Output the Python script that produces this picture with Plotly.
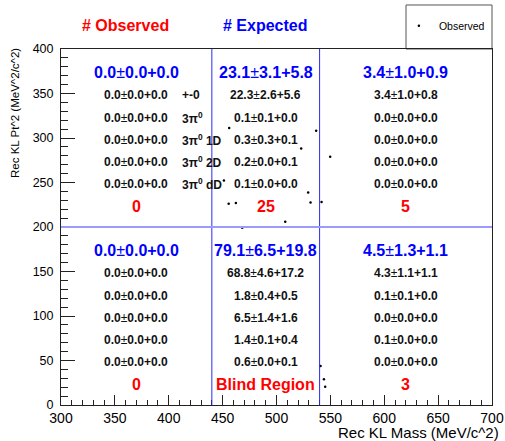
import plotly.graph_objects as go

# Observed events (reconstructed KL mass vs. Pt^2)
obs_mass = [456.1, 536.8, 522.9, 549.8, 451.2, 529.4, 455.6, 462.3, 531.6, 541.8,
            508.1, 468.2, 540.9, 544.0, 545.2]
obs_pt2 = [311.2, 308.2, 288.3, 279.0, 252.3, 238.8, 226.1, 226.9, 227.6, 228.0,
           205.8, 199.1, 43.9, 28.9, 20.6]

# Signal box cuts
mass_cuts = [440, 540]
pt2_cut = 200

# Column centres (mass) and row positions (Pt^2) for the yield table
col_mass = [370, 490, 620]
upper_rows = [375, 350, 325, 300, 275, 250, 225]
lower_rows = [175, 150, 125, 100, 75, 50, 25]
label_mass = 410

mode_labels = ["+-0", "3π<sup>0</sup>", "3π<sup>0</sup> 1D", "3π<sup>0</sup> 2D", "3π<sup>0</sup> dD"]

# Expected yields: (value, stat, syst)
upper_totals = [(0.0, 0.0, 0.0), (23.1, 3.1, 5.8), (3.4, 1.0, 0.9)]
upper_modes = [
    [(0.0, 0.0, 0.0)] * 5,
    [(22.3, 2.6, 5.6), (0.1, 0.1, 0.0), (0.3, 0.3, 0.1), (0.2, 0.0, 0.1), (0.1, 0.0, 0.0)],
    [(3.4, 1.0, 0.8), (0.0, 0.0, 0.0), (0.0, 0.0, 0.0), (0.0, 0.0, 0.0), (0.0, 0.0, 0.0)],
]
upper_counts = ["0", "25", "5"]

lower_totals = [(0.0, 0.0, 0.0), (79.1, 6.5, 19.8), (4.5, 1.3, 1.1)]
lower_modes = [
    [(0.0, 0.0, 0.0)] * 5,
    [(68.8, 4.6, 17.2), (1.8, 0.4, 0.5), (6.5, 1.4, 1.6), (1.4, 0.1, 0.4), (0.6, 0.0, 0.1)],
    [(4.3, 1.1, 1.1), (0.1, 0.1, 0.0), (0.0, 0.0, 0.0), (0.1, 0.0, 0.0), (0.0, 0.0, 0.0)],
]
lower_counts = ["0", "Blind Region", "3"]

FONT = "Liberation Sans, Arial, Helvetica, sans-serif"
RED = "#ff0000"
BLUE = "#0000ff"
INK = "#111111"


def fmt(v):
    val, stat, syst = v
    return f"<b>{val:.1f}</b>±<b>{stat:.1f}+{syst:.1f}</b>"


fig = go.Figure()
fig.add_trace(go.Scatter(
    x=obs_mass, y=obs_pt2, mode="markers", name="Observed",
    marker=dict(color="black", size=2.5),
))

annotations = []


def add_text(x, y, text, size, color, xanchor="center"):
    annotations.append(dict(
        x=x, y=y, xref="x", yref="y", text=text, showarrow=False,
        xanchor=xanchor, yanchor="middle",
        font=dict(family=FONT, size=size, color=color),
    ))


for rows, totals, modes, counts in [
    (upper_rows, upper_totals, upper_modes, upper_counts),
    (lower_rows, lower_totals, lower_modes, lower_counts),
]:
    for c, xm in enumerate(col_mass):
        add_text(xm, rows[0] - 1.5, fmt(totals[c]), 16, BLUE)
        for r, v in enumerate(modes[c]):
            add_text(xm, rows[r + 1] - 2, fmt(v), 12, INK)
        add_text(xm, rows[6] - 2, f"<b>{counts[c]}</b>", 16, RED)

for r, lab in enumerate(mode_labels):
    add_text(label_mass, upper_rows[r + 1] - 2, f"<b>{lab}</b>", 12, INK, xanchor="left")

# Headers
annotations.append(dict(x=0.1485, y=1.067, xref="paper", yref="paper", showarrow=False,
                        text="<b># Observed</b>", xanchor="center", yanchor="middle",
                        font=dict(family=FONT, size=16, color=RED)))
annotations.append(dict(x=0.473, y=1.067, xref="paper", yref="paper", showarrow=False,
                        text="<b># Expected</b>", xanchor="center", yanchor="middle",
                        font=dict(family=FONT, size=16, color=BLUE)))

# Axis titles (right/top aligned)
annotations.append(dict(x=1.021, y=-0.078, xref="paper", yref="paper", showarrow=False,
                        text="Rec KL Mass (MeV/c^2)", xanchor="right", yanchor="middle",
                        font=dict(family=FONT, size=15, color="black")))
annotations.append(dict(x=-0.107, y=0.82, xref="paper", yref="paper", showarrow=False,
                        text="Rec KL Pt^2 (MeV^2/c^2)", textangle=-90,
                        xanchor="center", yanchor="middle",
                        font=dict(family=FONT, size=11.5, color="black")))

shapes = []
for m in mass_cuts:
    shapes.append(dict(type="line", xref="x", yref="y", x0=m, x1=m, y0=0, y1=400,
                       line=dict(color="#2a2aee", width=1)))
shapes.append(dict(type="line", xref="x", yref="y", x0=300, x1=700, y0=pt2_cut, y1=pt2_cut,
                   line=dict(color="#9a9aff", width=2)))
# Legend frame
shapes.append(dict(type="rect", xref="paper", yref="paper", x0=0.8005, x1=1.0, y0=1.0, y1=1.1236,
                   line=dict(color="#555555", width=1), fillcolor="white", layer="below"))

fig.update_layout(
    width=505, height=441,
    margin=dict(l=61, r=13, t=49, b=36, autoexpand=False),
    paper_bgcolor="white", plot_bgcolor="white",
    font=dict(family=FONT, size=14, color="black"),
    showlegend=True,
    legend=dict(x=0.784, y=1.065, xanchor="left", yanchor="middle",
                bgcolor="rgba(0,0,0,0)", borderwidth=0,
                font=dict(family=FONT, size=10.5, color="black")),
    annotations=annotations,
    shapes=shapes,
    xaxis=dict(range=[300, 700], tick0=300, dtick=50, ticks="inside", ticklen=10,
               tickcolor="#222", showgrid=False, zeroline=False,
               showline=True, mirror=True, linecolor="#222", linewidth=1,
               tickfont=dict(family=FONT, size=14, color="black"),
               minor=dict(dtick=10, ticks="inside", ticklen=5, tickcolor="#222", showgrid=False)),
    yaxis=dict(range=[0, 400], tick0=0, dtick=50, ticks="inside", ticklen=14,
               tickcolor="#222", showgrid=False, zeroline=False,
               showline=True, mirror=True, linecolor="#222", linewidth=1,
               ticklabelstandoff=4,
               tickfont=dict(family=FONT, size=12.5, color="black"),
               minor=dict(dtick=10, ticks="inside", ticklen=7, tickcolor="#222", showgrid=False)),
)

fig.write_html("out.html")
